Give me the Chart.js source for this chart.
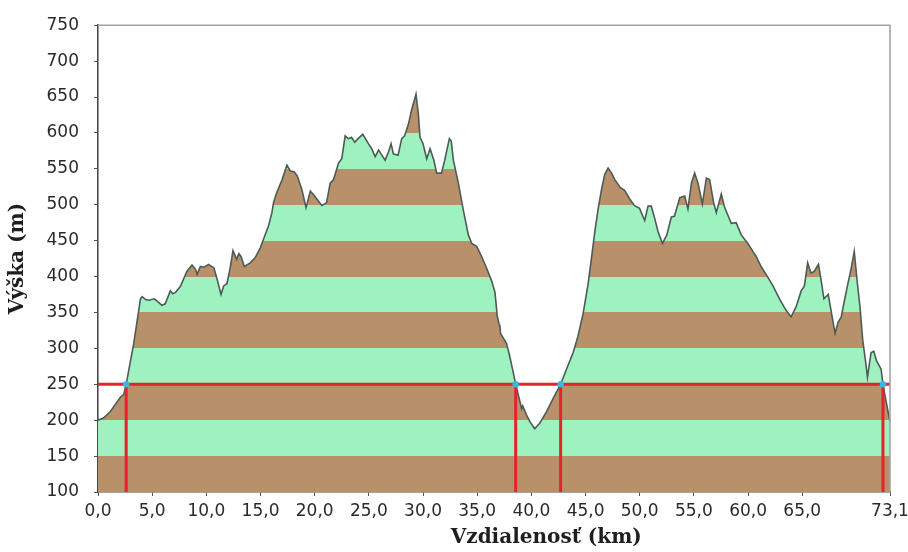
<!DOCTYPE html>
<html>
<head>
<meta charset="utf-8">
<script src="https://cdn.jsdelivr.net/npm/chart.js@4"></script>
<style>
  html, body { margin: 0; padding: 0; background: #ffffff; }
  #wrap { width: 908px; height: 552px; }
</style>
</head>
<body>
<div id="wrap"><canvas id="c" width="908" height="552"></canvas></div>
<script>
// ---- data ----
const distanceKm = [
  0.0, 0.5, 1.15, 1.6, 2.07, 2.38, 2.6, 3.3, 3.92, 4.07, 4.4, 4.7, 5.2, 5.6, 5.9, 6.2, 6.68, 6.9, 7.15, 7.6,
  8.2, 8.68, 9.0, 9.15, 9.45, 9.8, 10.2, 10.7, 11.0, 11.35, 11.6, 11.9, 12.2, 12.46, 12.8, 13.0, 13.2, 13.5, 14.05, 14.5,
  14.98, 15.3, 15.75, 16.05, 16.2, 16.5, 17.0, 17.3, 17.44, 17.75, 18.1, 18.4, 18.82, 19.2, 19.6, 19.9, 20.2, 20.66, 21.1, 21.43,
  21.74, 22.2, 22.5, 22.81, 23.1, 23.4, 23.7, 24.0, 24.44, 24.96, 25.26, 25.58, 25.9, 26.2, 26.5, 26.8, 27.05, 27.26, 27.7, 28.03,
  28.3, 28.65, 28.96, 29.17, 29.35, 29.57, 29.72, 30.0, 30.34, 30.65, 31.0, 31.26, 31.7, 32.0, 32.43, 32.6, 32.8, 33.26, 33.7, 34.18,
  34.5, 34.95, 35.4, 35.86, 36.33, 36.64, 36.85, 37.0, 37.1, 37.15, 37.7, 38.0, 38.32, 38.55, 38.94, 39.1, 39.2, 39.56, 39.86, 40.3,
  40.78, 41.4, 42.0, 42.7, 43.24, 43.85, 44.3, 44.77, 45.23, 45.55, 45.85, 46.16, 46.47, 46.77, 47.08, 47.4, 47.7, 48.2, 48.6, 49.08,
  49.5, 49.98, 50.46, 50.77, 51.07, 51.4, 51.7, 52.1, 52.5, 52.92, 53.2, 53.7, 54.15, 54.45, 54.77, 55.07, 55.38, 55.78, 56.15, 56.45,
  56.82, 57.07, 57.53, 57.84, 58.15, 58.45, 58.9, 59.37, 59.98, 60.44, 60.75, 61.2, 61.66, 62.3, 62.9, 63.5, 63.97, 64.44, 64.9, 65.2,
  65.5, 65.8, 66.1, 66.5, 66.7, 67.0, 67.4, 67.76, 68.03, 68.3, 68.6, 68.9, 69.2, 69.5, 69.8, 70.1, 70.33, 70.58, 70.86, 71.02,
  71.35, 71.6, 71.85, 72.28, 72.45, 72.74, 73.1
];
const elevationM = [
  200, 203, 212, 222, 232, 236, 250, 307, 369, 372, 368, 367, 369, 364, 360, 362, 380, 376, 378, 386,
  407, 416, 410, 403, 414, 413, 417, 412, 396, 375, 387, 390, 412, 436, 424, 432, 428, 414, 419, 426,
  440, 453, 471, 489, 503, 517, 535, 549, 555, 547, 546, 540, 521, 496, 519, 514, 508, 499, 503, 530,
  535, 558, 564, 596, 592, 594, 587, 592, 598, 585, 578, 567, 576, 569, 562, 573, 585, 571, 569, 592,
  596, 612, 633, 644, 654, 626, 594, 585, 564, 578, 562, 544, 544, 562, 592, 589, 562, 530, 494, 458,
  446, 442, 428, 412, 394, 378, 345, 335, 331, 321, 307, 289, 267, 250, 226, 216, 220, 207, 198, 188,
  196, 212, 230, 250, 271, 294, 317, 348, 389, 426, 462, 494, 521, 542, 551, 544, 535, 524, 520, 508,
  499, 495, 478, 498, 498, 480, 462, 446, 458, 483, 484, 510, 512, 494, 530, 544, 530, 501, 537, 535,
  503, 489, 515, 496, 485, 474, 475, 458, 446, 435, 428, 414, 403, 387, 369, 353, 344, 358, 380, 387,
  419, 405, 407, 417, 399, 369, 375, 344, 321, 336, 344, 367, 389, 410, 435, 389, 358, 312, 280, 260,
  294, 296, 283, 271, 250, 226, 198
];
const thresholdM = 250;
const crossingKm = [2.6, 38.55, 42.7, 72.45];
const xTickValues = [0, 5, 10, 15, 20, 25, 30, 35, 40, 45, 50, 55, 60, 65, 73.1];
const yMin = 100, yMax = 750, yStep = 50;
const bandStep = 50;
const bandColors = ['#b8916a', '#9ef2bf']; // brown, light green
const xTitle = 'Vzdialenosť (km)';
const yTitle = 'Výška (m)';

// ---- build datasets ----
const profile = distanceKm.map((x, i) => ({ x: x, y: elevationM[i] }));
const thresholdLine = [{ x: xTickValues[0], y: thresholdM }, { x: xTickValues[xTickValues.length - 1], y: thresholdM }];
const verticals = [];
crossingKm.forEach(k => {
  verticals.push({ x: k, y: yMin }, { x: k, y: thresholdM }, { x: k, y: null });
});
const dots = crossingKm.map(k => ({ x: k, y: thresholdM }));

function bandGradient(context) {
  const chart = context.chart;
  const area = chart.chartArea;
  if (!area) return bandColors[0];
  const ys = chart.scales.y;
  const p0 = ys.getPixelForValue(ys.min);
  const p1 = ys.getPixelForValue(ys.max);
  const g = chart.ctx.createLinearGradient(0, p0, 0, p1);
  const span = ys.max - ys.min;
  let idx = 0;
  for (let v = ys.min; v < ys.max; v += bandStep) {
    const col = bandColors[idx % 2];
    g.addColorStop((v - ys.min) / span, col);
    g.addColorStop(Math.min(1, (v + bandStep - ys.min) / span) - 1e-6, col);
    idx++;
  }
  return g;
}

const frameAndTitle = {
  id: 'frameAndTitle',
  afterDatasetsDraw(chart) {
    const { ctx, chartArea } = chart;
    ctx.save();
    ctx.strokeStyle = '#a4a4a4';
    ctx.lineWidth = 1.6;
    ctx.beginPath();
    ctx.moveTo(chartArea.left, chartArea.top);
    ctx.lineTo(chartArea.right, chartArea.top);
    ctx.lineTo(chartArea.right, chartArea.bottom);
    ctx.stroke();
    ctx.restore();
  },
  afterDraw(chart) {
    const { ctx, chartArea } = chart;
    ctx.save();
    ctx.font = 'bold 20px "DejaVu Serif"';
    ctx.fillStyle = '#1e1e1e';
    ctx.textAlign = 'center';
    ctx.textBaseline = 'alphabetic';
    ctx.fillText(xTitle, chartArea.left + chartArea.width * 0.566, chart.height - 9);
    ctx.restore();
  }
};

const tickFont = { family: '"DejaVu Sans"', size: 17 };

new Chart(document.getElementById('c'), {
  type: 'line',
  data: {
    datasets: [
      {
        data: dots, type: 'scatter', order: 0,
        pointRadius: 3.2, pointBackgroundColor: '#38b8ea', pointBorderWidth: 0, showLine: false
      },
      {
        data: verticals, order: 1, borderColor: '#e8222a', borderWidth: 3,
        pointRadius: 0, spanGaps: false, fill: false
      },
      {
        data: thresholdLine, order: 1, borderColor: '#e8222a', borderWidth: 3,
        pointRadius: 0, fill: false
      },
      {
        data: profile, order: 2, borderColor: '#4c5b56', borderWidth: 1.6,
        pointRadius: 0, tension: 0, fill: 'start', backgroundColor: bandGradient
      }
    ]
  },
  options: {
    responsive: false,
    animation: false,
    events: [],
    layout: { padding: { left: 0, right: 18, top: 16, bottom: 0 } },
    plugins: { legend: { display: false }, tooltip: { enabled: false } },
    scales: {
      x: {
        type: 'linear', min: xTickValues[0], max: xTickValues[xTickValues.length - 1],
        afterBuildTicks(s) { s.ticks = xTickValues.map(v => ({ value: v })); },
        afterFit(s) { s.height = 60; s.paddingLeft = 0; s.paddingRight = 0; },
        ticks: {
          autoSkip: false, maxRotation: 0, padding: 5, color: '#2a2a2a', font: tickFont,
          callback: (v) => Number(v).toFixed(1).replace('.', ',')
        },
        grid: { drawOnChartArea: false, drawTicks: true, tickLength: 4, tickColor: '#555555' },
        border: { color: '#4a4a4a', width: 1.6 }
      },
      y: {
        min: yMin, max: yMax,
        afterFit(s) { s.width = 98; },
        ticks: { stepSize: yStep, padding: 15, color: '#2a2a2a', font: tickFont },
        grid: { drawOnChartArea: false, drawTicks: true, tickLength: 4, tickColor: '#555555' },
        border: { color: '#4a4a4a', width: 1.6 },
        title: {
          display: true, text: yTitle, color: '#1e1e1e',
          font: { family: '"DejaVu Serif"', size: 20, weight: 'bold' },
          padding: { top: 6, bottom: 0 }
        }
      }
    }
  },
  plugins: [frameAndTitle]
});
</script>
</body>
</html>
